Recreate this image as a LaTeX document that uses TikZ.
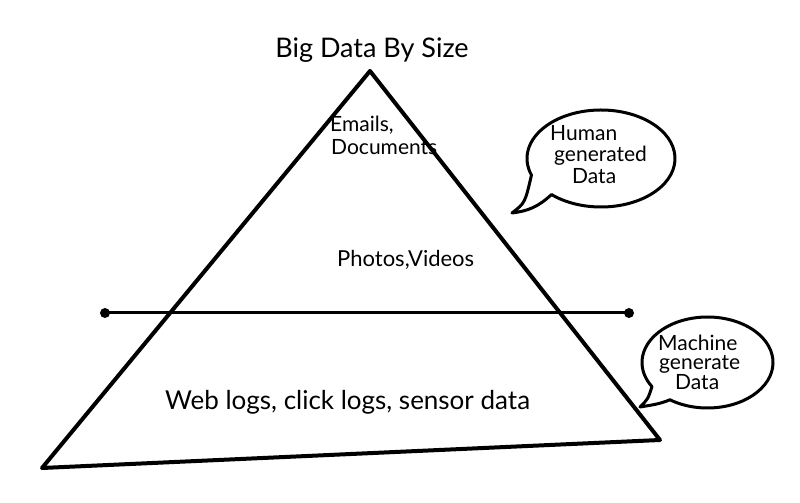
\documentclass[tikz,border=0pt]{standalone}
\usepackage{fontspec}
\setmainfont{Lato}
\begin{document}
\begin{tikzpicture}[x=1pt,y=1pt,
  ink/.style={line width=4pt, line join=round, line cap=round, draw=black},
  bubble/.style={line width=3pt, line join=round, fill=white, draw=black},
  hand/.style={font=\fontsize{21}{23}\selectfont, inner sep=0pt, anchor=base west},
  dotend/.style={circle, fill=black, minimum size=10pt, inner sep=0pt}]
\useasboundingbox (0,0) rectangle (800,503);
\fill[white] (0,0) rectangle (800,503);
% triangle
\coordinate (apex) at (370,432);
\coordinate (bl) at (42,35);
\coordinate (br) at (660,63);
\draw[ink] (apex) -- (br) -- (bl) -- cycle;
% divider
\node[dotend] (dl) at (105,190) {};
\node[dotend] (dr) at (629,190) {};
\draw[line width=3pt] (dl.center) -- (dr.center);
% texts
\node[hand, anchor=base, font=\fontsize{27}{29}\selectfont] (title) at (372,445) {Big Data By Size};
\node[hand, font=\fontsize{21}{24}\selectfont] (emails) at (330,371) {Emails,};
\node[hand, font=\fontsize{21}{24}\selectfont] (docs) at (331,348) {Documents};
\node[hand, font=\fontsize{22}{24}\selectfont] (photos) at (337,236) {Photos,Videos};
\node[hand, font=\fontsize{26}{28}\selectfont] (web) at (165,93) {Web logs, click logs, sensor data};
% bubble 1
\coordinate (c1) at (601,344.5);
\draw[bubble] ([shift={(228:74pt and 48.5pt)}]c1) arc[start angle=228, end angle=560, x radius=74pt, y radius=48.5pt]
  .. controls (525,300) .. (512,290) .. controls (528,292) and (538,296) .. cycle;
\node[hand] (h1) at (550,362) {Human};
\node[hand] (h2) at (554,341) {generated};
\node[hand] (h3) at (572,319) {Data};
% bubble 2
\coordinate (c2) at (707.5,140.5);
\draw[bubble] ([shift={(235:65.5pt and 45.5pt)}]c2) arc[start angle=235, end angle=572, x radius=65.5pt, y radius=45.5pt]
  .. controls (648,104) .. (640,96) .. controls (652,98) and (660,99) .. cycle;
\node[hand] (m1) at (658,152) {Machine};
\node[hand] (m2) at (659,133) {generate};
\node[hand] (m3) at (675,113) {Data};
\end{tikzpicture}
\end{document}
